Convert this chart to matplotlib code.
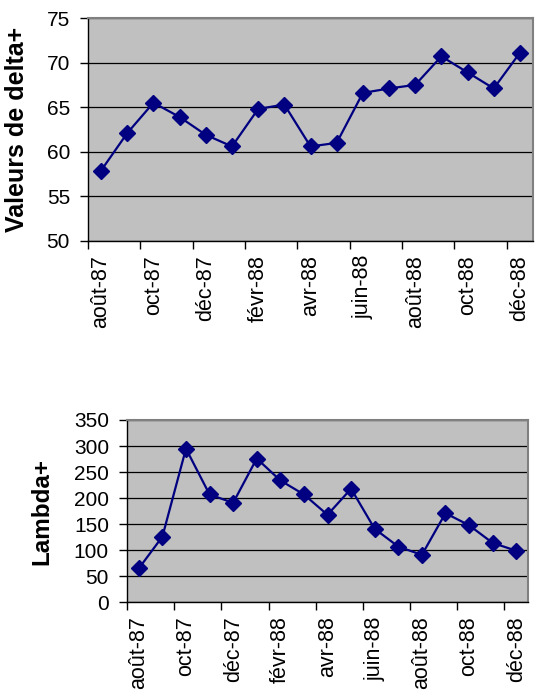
import numpy as np
import matplotlib
matplotlib.use("Agg")
import matplotlib.pyplot as plt

plt.rcParams['font.family'] = ['Liberation Sans', 'DejaVu Sans']

months = ["août-87", "sept-87", "oct-87", "nov-87", "déc-87", "janv-88",
          "févr-88", "mars-88", "avr-88", "mai-88", "juin-88", "juil-88",
          "août-88", "sept-88", "oct-88", "nov-88", "déc-88"]
delta = [57.9, 62.1, 65.5, 63.9, 61.9, 60.6, 64.8, 65.3, 60.6, 61.0,
         66.6, 67.1, 67.5, 70.7, 68.9, 67.1, 71.1]
lambda_ = [65, 126, 295, 207, 191, 276, 234, 207, 168, 218,
           141, 107, 91, 171, 148, 114, 99]

fig = plt.figure(figsize=(5.35, 6.96), dpi=100)
ax1 = fig.add_axes([88 / 535, 1 - 241 / 696, 445 / 535, 223 / 696])
ax2 = fig.add_axes([127 / 535, 1 - 602.3 / 696, 401 / 535, 182.3 / 696])


def style(ax, vals, ylim, ystep, ylabel, labelx, labelsize):
    x = np.arange(len(vals))
    ax.set_facecolor('#C0C0C0')
    ax.plot(x, vals, color='#000080', lw=1.6, marker='D', ms=8,
            mec='#000080', mfc='#000080', zorder=3)
    ax.set_xlim(-0.5, len(vals) - 0.5)
    ax.set_ylim(*ylim)
    ax.set_yticks(np.arange(ylim[0], ylim[1] + 1, ystep))
    ax.yaxis.grid(True, color='black', lw=0.9)
    ax.set_axisbelow(True)
    # month boundaries as major ticks, labels centred on every 2nd month
    ax.set_xticks(np.arange(-0.5, len(vals) - 1, 2))
    ax.set_xticklabels([])
    ax.set_xticks(x[::2], minor=True)
    ax.set_xticklabels([months[i] for i in x[::2]], minor=True, rotation=90)
    ax.tick_params(axis='x', which='minor', length=0, pad=10, labelsize=15.5)
    ax.tick_params(axis='x', which='major', length=6, width=1, direction='out')
    ax.tick_params(axis='y', length=6, width=1, pad=7, labelsize=15)
    for side in ['top', 'right']:
        ax.spines[side].set_color('#808080')
        ax.spines[side].set_linewidth(1.5)
    for side in ['left', 'bottom']:
        ax.spines[side].set_color('black')
        ax.spines[side].set_linewidth(1)
    ax.set_ylabel(ylabel, fontsize=labelsize, fontweight='bold')
    ax.yaxis.set_label_coords(labelx, 0.5)


style(ax1, delta, (50, 75), 5, "Valeurs de delta+", -59 / 445, 18)
style(ax2, lambda_, (0, 350), 50, "Lambda+", -74 / 401, 17.5)

fig.savefig("out.png", dpi=100)
